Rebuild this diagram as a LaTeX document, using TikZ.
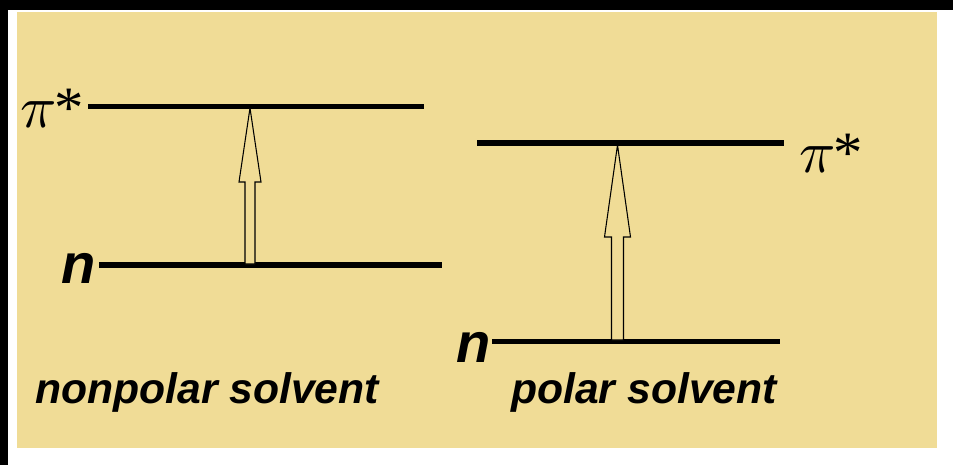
\documentclass[tikz,border=0pt]{standalone}
\usepackage{fontspec}
\setmainfont{Liberation Serif}
\setsansfont{Liberation Sans}
\usetikzlibrary{calc}
\definecolor{beige}{RGB}{240,220,150}
\newcommand{\pistar}{\scalebox{4.5}{$\pi$}\kern-1.5pt\fontsize{44}{44}\selectfont*}
\tikzset{
  level/.style={line width=3.8pt, black},
  hollowarrow/.style={draw=black, line width=0.8pt, fill=beige, line join=miter},
  pilabel/.style={inner sep=0pt, anchor=base west},
  nlabel/.style={font=\sffamily\bfseries\itshape\fontsize{42}{42}\selectfont, inner sep=0pt, anchor=base west},
  solvent/.style={font=\sffamily\bfseries\itshape\fontsize{32}{32}\selectfont, inner sep=0pt, anchor=base west}
}
\begin{document}
\begin{tikzpicture}[x=0.75pt,y=-0.75pt]
% background and frame
\fill[white] (0,0) rectangle (953,465);
\fill[black] (0,0) rectangle (953,10);
\fill[black] (0,0) rectangle (8,465);
\fill[beige] (17,12) rectangle (937,448);
\useasboundingbox (0,0) rectangle (953,465);

% left (nonpolar) levels
\coordinate (lpiA) at (88,106.5);
\coordinate (lpiB) at (424,106.5);
\coordinate (lnA) at (99,265);
\coordinate (lnB) at (442,265);
\draw[level] (lpiA) -- (lpiB);
\draw[level] (lnA) -- (lnB);
\node[pilabel] (lpi) at (20,127) {\pistar};
\node[nlabel] (ln) at (61,283) {n};

% right (polar) levels
\coordinate (rpiA) at (477,143);
\coordinate (rpiB) at (784,143);
\coordinate (rnA) at (492,341.5);
\coordinate (rnB) at (780,341.5);
\draw[level] (rpiA) -- (rpiB);
\draw[level] (rnA) -- (rnB);
\node[pilabel] (rpi) at (799,172) {\pistar};
\node[nlabel] (rn) at (456,362) {n};

% arrows
\coordinate (laBot) at (250,264);
\coordinate (laTip) at (250,108);
\draw[hollowarrow] ($(laBot)+(-5,0)$) -- ($(laBot)+(5,0)$) -- ($(laTip)+(5,74)$) -- ($(laTip)+(11,74)$)
  -- (laTip) -- ($(laTip)+(-11,74)$) -- ($(laTip)+(-5,74)$) -- cycle;
\coordinate (raBot) at (617.5,340);
\coordinate (raTip) at (617.5,145);
\draw[hollowarrow] ($(raBot)+(-6,0)$) -- ($(raBot)+(6,0)$) -- ($(raTip)+(6,92)$) -- ($(raTip)+(13,92)$)
  -- (raTip) -- ($(raTip)+(-13,92)$) -- ($(raTip)+(-6,92)$) -- cycle;

% captions
\node[solvent] (cap1) at (35,403) {nonpolar solvent};
\node[solvent] (cap2) at (511,403) {polar solvent};
\end{tikzpicture}
\end{document}
